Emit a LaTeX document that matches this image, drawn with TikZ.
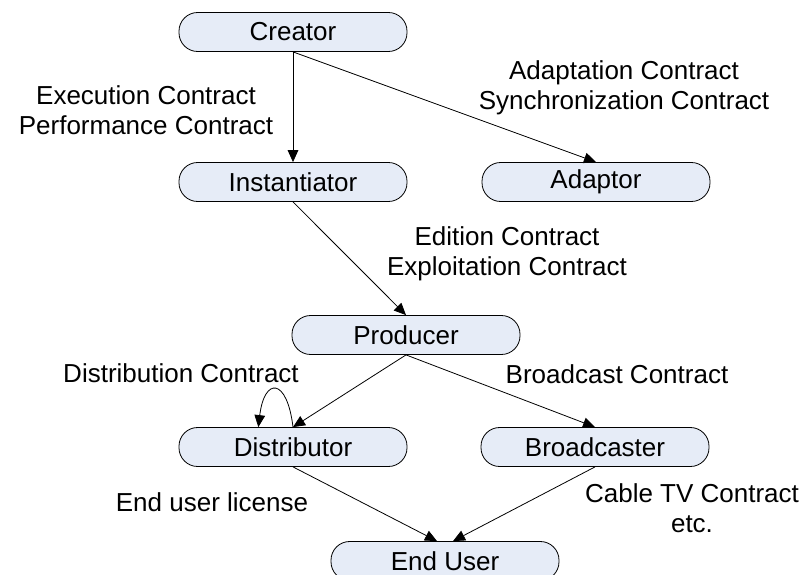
\documentclass[tikz,border=0pt]{standalone}
\usepackage{fontspec}
\setmainfont{Liberation Sans}
\usetikzlibrary{arrows.meta}
\definecolor{boxfill}{RGB}{230,236,247}
\tikzset{
  party/.style={draw, fill=boxfill, rounded corners=14pt, minimum width=171pt, minimum height=29.25pt, inner sep=0pt, line width=0.6pt},
  contract/.style={align=center},
  deal/.style={-{Triangle[length=9pt,width=8pt]}, line width=0.6pt},
}
\begin{document}
\begin{tikzpicture}[x=0.75pt,y=-0.75pt,font=\fontsize{19.5}{22.5}\selectfont]
\useasboundingbox (0,0) rectangle (805,574);
\node[party] (creator) at (293,32){Creator};
\node[party] (inst) at (293,182){Instantiator};
\node[party] (adaptor) at (596,182){Adaptor};
\node[party] (producer) at (406,335){Producer};
\node[party] (dist) at (293,447){Distributor};
\node[party] (bcast) at (595,447){Broadcaster};
\node[party] (enduser) at (445,561){End User};
\draw[deal](creator.south) -- (inst.north);
\draw[deal](creator.south) -- (adaptor.north);
\draw[deal](inst.south) -- (producer.north);
\draw[deal](producer.south) -- (dist.north);
\draw[deal](producer.south) -- (bcast.north);
\draw[deal](dist.north) .. controls +(-6,-50) and +(6,-50) .. ([xshift=-26pt]dist.north);
\draw[deal](dist.south) -- ([xshift=-6pt]enduser.north);
\draw[deal](bcast.south) -- ([xshift=6pt]enduser.north);
\node[contract] (c1) at (146,110){Execution Contract\\Performance Contract};
\node[contract] (c2) at (624,88){Adaptation Contract\\Synchronization Contract};
\node[contract] (c3) at (507,254){Edition Contract\\Exploitation Contract};
\node[contract] (c4) at (181,373){Distribution Contract};
\node[contract] (c5) at (617,374){Broadcast Contract};
\node[contract] (c6) at (212,502){End user license};
\node[contract] (c7) at (692,508){Cable TV Contract\\etc.};
\end{tikzpicture}
\end{document}
